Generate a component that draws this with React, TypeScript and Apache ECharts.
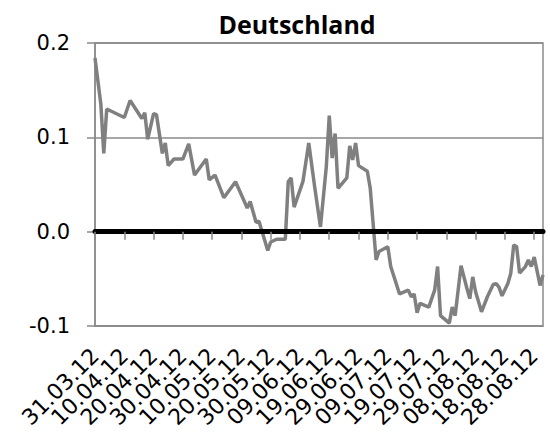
import React, { useEffect, useRef } from "react";
import * as echarts from "echarts";

const TITLE = "Deutschland";
const START_DATE = [2012, 2, 31]; // 31.03.2012
const DAY_COUNT = 154; // 31.03.12 .. 31.08.12
const LABEL_EVERY = 10;

const yTicks = [-0.1, 0.0, 0.1, 0.2];

const pointDays = [
  0, 2, 3, 4, 10, 12, 16, 17, 18, 20, 21, 23, 24, 25, 27, 30, 32, 34, 38, 39, 41, 44, 48, 52, 53,
  55, 56, 59, 60, 62, 65, 66, 67, 68, 71, 73, 75, 77, 79, 80, 81, 82, 83, 86, 87, 88, 89, 90, 93,
  94, 96, 97, 100, 101, 104, 107, 108, 109, 110, 111, 114, 116, 117, 118, 121, 122, 123, 125, 127,
  128, 129, 130, 132, 134, 136, 137, 138, 139, 141, 142, 143, 144, 145, 147, 148, 149, 150, 152, 153,
];
const pointValues = [
  0.184, 0.135, 0.083, 0.13, 0.121, 0.139, 0.12, 0.126, 0.098, 0.125, 0.124, 0.083, 0.094, 0.07,
  0.077, 0.077, 0.093, 0.06, 0.077, 0.055, 0.06, 0.036, 0.053, 0.025, 0.032, 0.01, 0.011, -0.02,
  -0.011, -0.008, -0.008, 0.053, 0.057, 0.026, 0.053, 0.094, 0.048, 0.005, 0.069, 0.123, 0.078,
  0.104, 0.046, 0.057, 0.091, 0.076, 0.094, 0.07, 0.064, 0.046, -0.03, -0.021, -0.016, -0.037,
  -0.066, -0.062, -0.069, -0.066, -0.086, -0.076, -0.08, -0.062, -0.037, -0.089, -0.097, -0.08,
  -0.089, -0.036, -0.06, -0.071, -0.048, -0.064, -0.085, -0.069, -0.056, -0.055, -0.059, -0.068,
  -0.055, -0.044, -0.014, -0.016, -0.044, -0.037, -0.03, -0.037, -0.027, -0.057, -0.046,
];

const pad = (n: number) => (n < 10 ? "0" + n : "" + n);
const dateLabels: string[] = [];
for (let i = 0; i < DAY_COUNT; i++) {
  const d = new Date(START_DATE[0], START_DATE[1], START_DATE[2] + i);
  dateLabels.push(pad(d.getDate()) + "." + pad(d.getMonth() + 1) + "." + pad(d.getFullYear() % 100));
}
const seriesData: (number | null)[] = dateLabels.map(() => null);
pointDays.forEach((d, i) => {
  seriesData[d] = pointValues[i];
});

const GRAY = "#8a8a8a";
const FONT = "DejaVu Sans";

export default function App() {
  const ref = useRef<HTMLDivElement>(null);
  useEffect(() => {
    if (!ref.current) return;
    const chart = echarts.init(ref.current, null, { renderer: "svg" });
    chart.setOption({
      animation: false,
      backgroundColor: "#ffffff",
      graphic: [
        {
          type: "text",
          x: 297,
          y: 24,
          style: {
            text: TITLE,
            fontFamily: "Open Sans",
            fontWeight: "bold",
            fontSize: 25,
            fill: "#000",
            textAlign: "center",
            textVerticalAlign: "middle",
          },
        },
      ],
      grid: {
        left: 95,
        right: 7,
        top: 43,
        bottom: 111,
        show: true,
        borderColor: GRAY,
        borderWidth: 1.5,
        containLabel: false,
      },
      xAxis: [
        {
          type: "category",
          data: dateLabels,
          boundaryGap: false,
          position: "bottom",
          axisLine: { show: true, onZero: false, lineStyle: { color: GRAY, width: 1.5 } },
          axisTick: { show: false },
          splitLine: { show: false },
          axisLabel: {
            interval: 0,
            formatter: (v: string, idx: number) => (idx % LABEL_EVERY === 0 ? v : ""),
            rotate: 45,
            margin: 26,
            hideOverlap: false,
            fontFamily: FONT,
            fontSize: 22,
            color: "#000",
          },
        },
        {
          type: "category",
          data: dateLabels,
          boundaryGap: false,
          position: "bottom",
          z: 5,
          axisLine: { show: true, onZero: true, lineStyle: { color: "#000", width: 5 } },
          axisTick: { show: true, interval: LABEL_EVERY - 1, length: 8, lineStyle: { color: GRAY, width: 1.5 } },
          axisLabel: { show: false },
          splitLine: { show: false },
        },
      ],
      yAxis: {
        type: "value",
        min: yTicks[0],
        max: yTicks[yTicks.length - 1],
        interval: 0.1,
        axisLine: { show: true, lineStyle: { color: GRAY, width: 1.5 } },
        axisTick: { show: true, length: 8, lineStyle: { color: GRAY, width: 1.5 } },
        splitLine: { show: true, lineStyle: { color: GRAY, width: 1.5 } },
        axisLabel: {
          margin: 25,
          fontFamily: FONT,
          fontSize: 21,
          color: "#000",
          formatter: (v: number) => v.toFixed(1),
        },
      },
      series: [
        {
          type: "line",
          data: seriesData,
          connectNulls: true,
          symbol: "none",
          lineStyle: { color: "#808080", width: 3.5 },
          itemStyle: { color: "#808080" },
          z: 3,
        },
      ],
    });
    return () => chart.dispose();
  }, []);
  return <div ref={ref} style={{ position: "fixed", left: 0, top: 0, width: 550, height: 437 }} />;
}
